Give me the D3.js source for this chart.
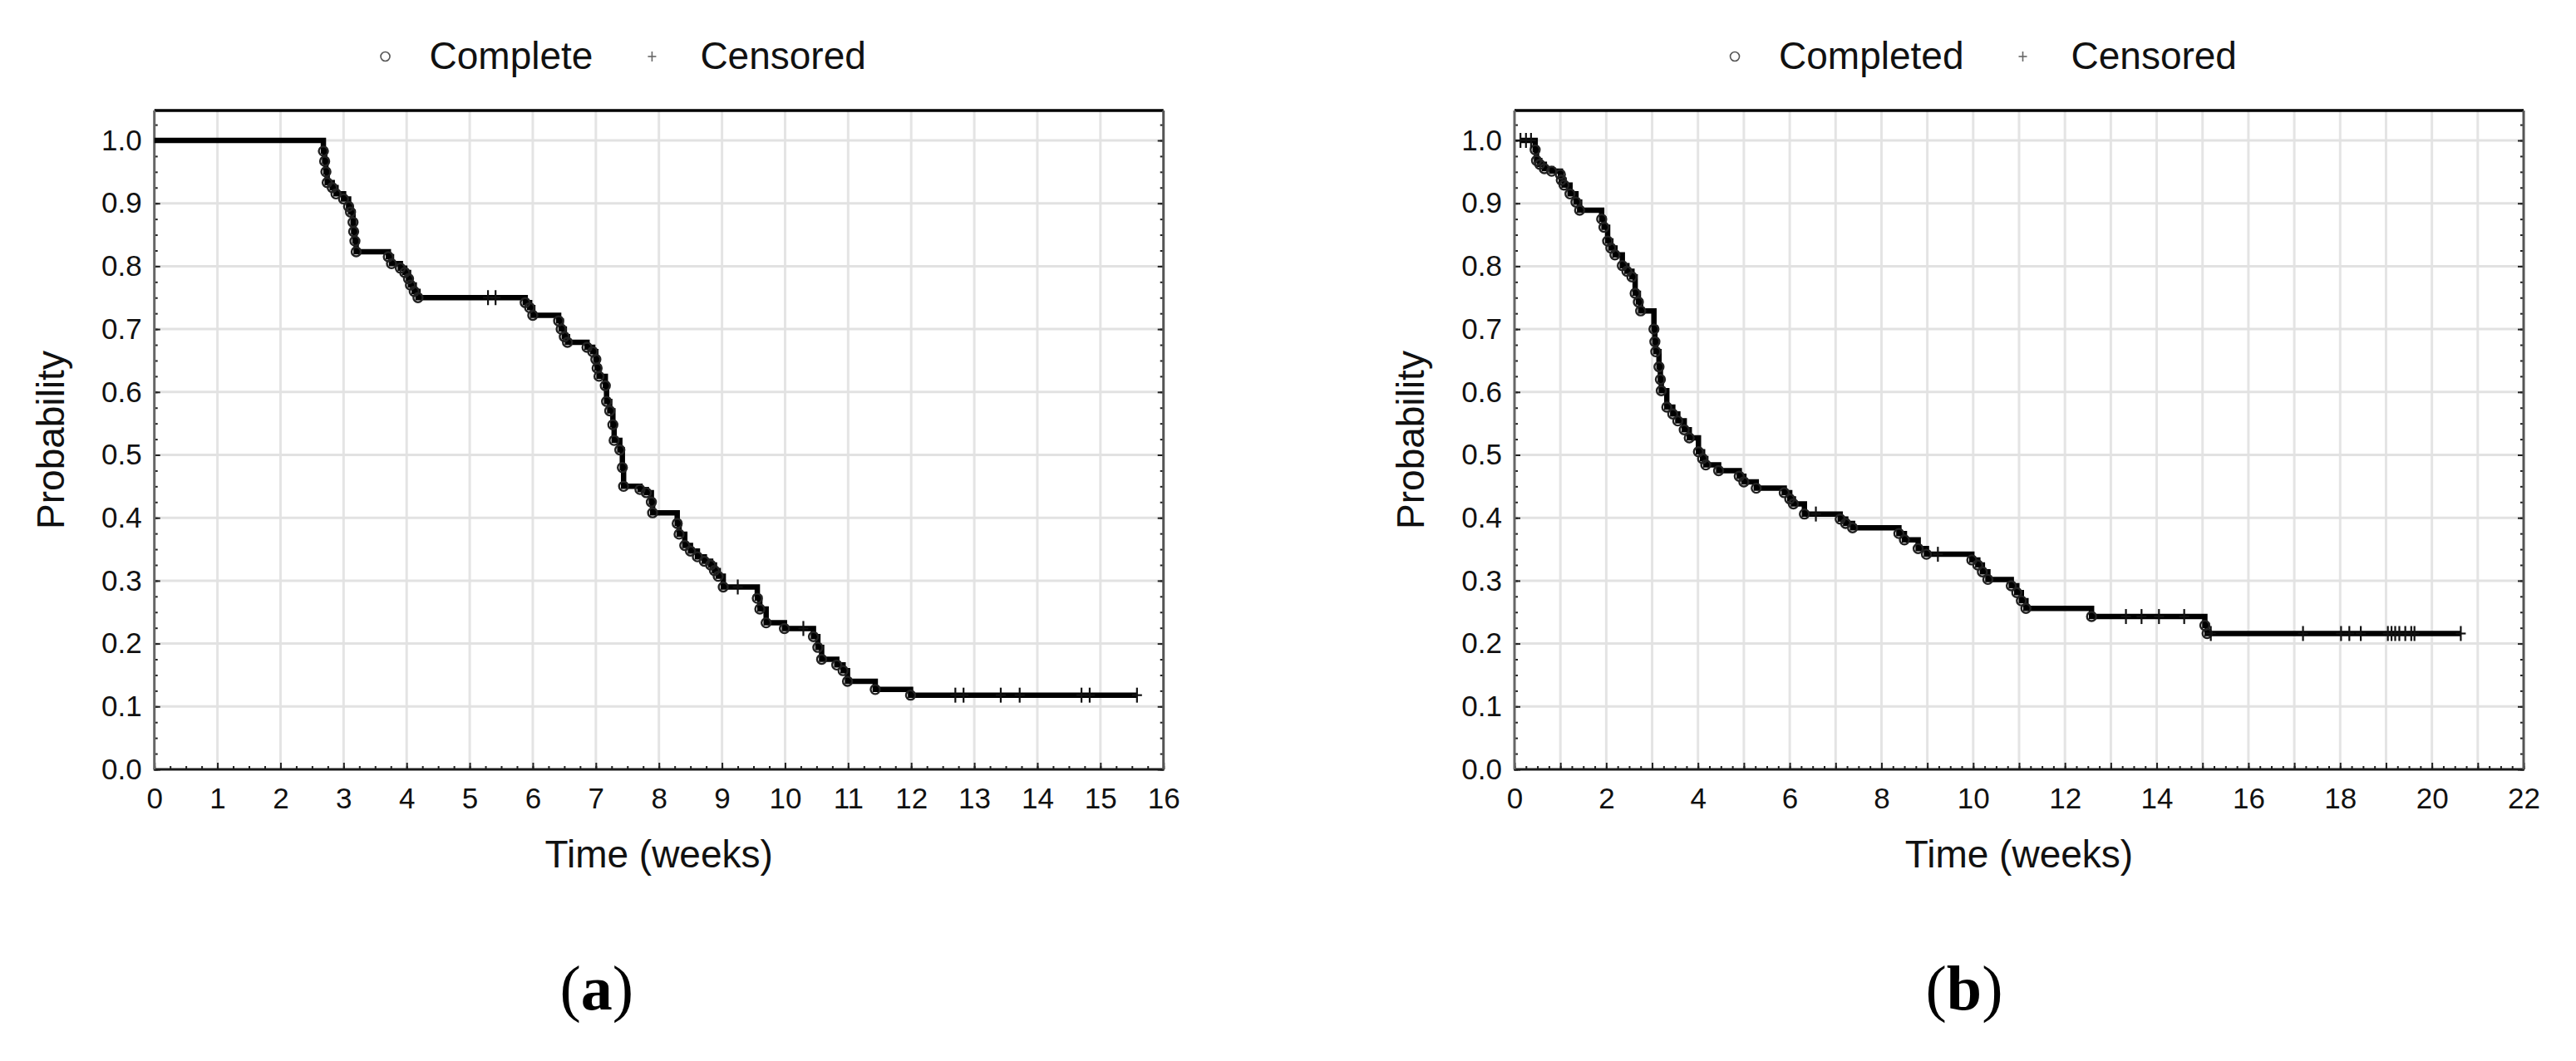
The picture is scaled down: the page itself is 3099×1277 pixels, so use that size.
<!DOCTYPE html>
<html><head><meta charset="utf-8">
<script src="https://cdn.jsdelivr.net/npm/d3@7"></script>
<style>body{margin:0;background:#fff}</style>
</head><body>
<svg id="chart" width="3099" height="1277" xmlns="http://www.w3.org/2000/svg"></svg>
<script>
// ---------- DATA ----------
// Panel (a): event (complete) times in weeks and Kaplan-Meier survival after each event
const eventTimesA = [2.68,2.70,2.72,2.74,2.82,2.88,3.00,3.08,3.11,3.15,3.16,3.18,3.20,3.71,3.76,3.90,3.97,4.03,4.06,4.12,4.18,
  5.88,5.95,6.00,6.41,6.45,6.50,6.55,6.86,6.95,7.00,7.02,7.05,7.15,7.17,7.22,7.27,7.29,7.38,7.42,7.44,7.70,7.80,7.88,7.90,
  8.29,8.32,8.41,8.50,8.61,8.72,8.82,8.88,8.94,9.02,9.56,9.60,9.70,9.99,10.45,10.52,10.58,10.82,10.92,10.99,11.43,11.99];
const survivalA = [0.983,0.967,0.950,0.933,0.925,0.915,0.907,0.895,0.886,0.870,0.855,0.840,0.823,0.815,0.804,0.797,0.790,0.780,0.770,0.760,0.750,
  0.742,0.734,0.722,0.713,0.700,0.688,0.679,0.671,0.664,0.652,0.638,0.625,0.610,0.585,0.570,0.548,0.523,0.508,0.480,0.450,0.445,0.440,0.425,0.408,
  0.391,0.374,0.356,0.347,0.338,0.331,0.325,0.316,0.307,0.290,0.272,0.255,0.233,0.224,0.211,0.194,0.175,0.166,0.157,0.140,0.127,0.118];
const censoredTimesA = [5.29,5.41,9.25,10.29,12.70,12.83,13.42,13.72,14.70,14.83,15.58];
const curveStartA = 0;

// Panel (b)
const eventTimesB = [0.45,0.48,0.55,0.65,0.81,1.00,1.02,1.08,1.21,1.34,1.42,1.90,1.95,2.03,2.10,2.19,2.35,2.45,2.56,2.63,2.70,2.75,
  3.04,3.06,3.08,3.15,3.18,3.20,3.32,3.45,3.56,3.70,3.81,4.01,4.10,4.17,4.45,4.90,5.00,5.27,5.88,6.00,6.08,6.32,7.10,7.22,7.37,
  8.38,8.50,8.80,8.98,9.97,10.10,10.20,10.32,10.83,10.95,11.05,11.15,12.58,15.05,15.10];
const survivalB = [0.985,0.968,0.962,0.955,0.951,0.946,0.937,0.929,0.915,0.902,0.889,0.875,0.862,0.840,0.829,0.818,0.801,0.792,0.783,0.757,0.743,0.729,
  0.700,0.680,0.664,0.640,0.620,0.602,0.576,0.565,0.554,0.540,0.527,0.505,0.494,0.484,0.475,0.466,0.457,0.447,0.440,0.430,0.422,0.406,0.398,0.391,0.384,
  0.375,0.365,0.351,0.342,0.333,0.325,0.314,0.302,0.292,0.281,0.268,0.256,0.243,0.229,0.216];
const censoredTimesB = [0.13,0.25,0.36,6.57,9.23,13.33,13.67,14.05,14.60,15.18,17.19,18.02,18.20,18.45,19.04,19.12,19.20,19.29,19.42,19.55,19.62,20.63];
const curveStartB = 0.13;

// Axis tick labels
const xTicksA = [0,1,2,3,4,5,6,7,8,9,10,11,12,13,14,15,16];
const xTicksB = [0,2,4,6,8,10,12,14,16,18,20,22];
const yTicks = [0.0,0.1,0.2,0.3,0.4,0.5,0.6,0.7,0.8,0.9,1.0];
const legendA = ["Complete","Censored"];
const legendB = ["Completed","Censored"];
const panelLetters = ["a","b"];
const xTitle = "Time (weeks)";
const yTitle = "Probability";

// ---------- DRAWING ----------
const svg = d3.select("#chart");
svg.append("rect").attr("width",3099).attr("height",1277).attr("fill","#fff");

const FONT = "'Liberation Sans', Arial, sans-serif";
const PLOT_W = 1214, TOP = 133, BOTTOM = 926;

function survAt(times, surv, t){
  let s = 1;
  for (let i=0;i<times.length;i++){ if (times[i] <= t) s = surv[i]; }
  return s;
}

function drawPanel(o){
  const g = svg.append("g").attr("transform",`translate(${o.left},0)`);
  const x = d3.scaleLinear().domain([0,o.xmax]).range([0,PLOT_W]);
  const y = d3.scaleLinear().domain([0,1]).range([BOTTOM,169]);
  const yTop = y.invert(TOP);

  // grid
  const gridX = d3.range(0,o.xmax+0.001,1);
  g.append("g").selectAll("line").data(gridX.slice(1,-1)).join("line")
    .attr("x1",d=>x(d)).attr("x2",d=>x(d)).attr("y1",TOP).attr("y2",BOTTOM)
    .attr("stroke","#e4e4e4").attr("stroke-width",3);
  g.append("g").selectAll("line").data(yTicks.slice(1)).join("line")
    .attr("x1",0).attr("x2",PLOT_W).attr("y1",d=>y(d)).attr("y2",d=>y(d))
    .attr("stroke","#e2e2e2").attr("stroke-width",3);

  // minor ticks (x every 0.25, y every 0.025)
  const minorX = d3.range(0,o.xmax+0.001,0.25);
  const minorY = d3.range(0,yTop,0.025);
  g.append("g").attr("transform",`translate(0,${BOTTOM})`)
    .call(d3.axisBottom(x).tickValues(minorX).tickSize(-4).tickFormat(""))
    .call(a=>a.select(".domain").remove())
    .call(a=>a.selectAll("line").attr("stroke","#222").attr("stroke-width",2));
  g.append("g")
    .call(d3.axisLeft(y).tickValues(minorY).tickSize(-4).tickFormat(""))
    .call(a=>a.select(".domain").remove())
    .call(a=>a.selectAll("line").attr("stroke","#222").attr("stroke-width",2));
  g.append("g").attr("transform",`translate(${PLOT_W},0)`)
    .call(d3.axisRight(y).tickValues(minorY).tickSize(-4).tickFormat(""))
    .call(a=>a.select(".domain").remove())
    .call(a=>a.selectAll("line").attr("stroke","#222").attr("stroke-width",2));

  // major axes
  const ax = g.append("g").attr("transform",`translate(0,${BOTTOM})`)
    .call(d3.axisBottom(x).tickValues(gridX).tickSize(-8).tickPadding(22)
      .tickFormat(d=> o.xLabels.includes(d) ? d3.format("d")(d) : ""));
  ax.select(".domain").remove();
  ax.selectAll("line").attr("stroke","#222").attr("stroke-width",2);
  ax.selectAll("text").attr("font-family",FONT).attr("font-size",35).attr("fill","#111");

  const ay = g.append("g")
    .call(d3.axisLeft(y).tickValues(yTicks).tickSize(-7).tickPadding(15).tickFormat(d3.format(".1f")));
  ay.select(".domain").remove();
  ay.selectAll("line").attr("stroke","#222").attr("stroke-width",2);
  ay.selectAll("text").attr("font-family",FONT).attr("font-size",35).attr("fill","#111");

  g.append("g").attr("transform",`translate(${PLOT_W},0)`)
    .call(d3.axisRight(y).tickValues(yTicks).tickSize(-7).tickFormat(""))
    .call(a=>a.select(".domain").remove())
    .call(a=>a.selectAll("line").attr("stroke","#222").attr("stroke-width",2));

  // frame
  g.append("line").attr("x1",0).attr("x2",PLOT_W).attr("y1",TOP).attr("y2",TOP).attr("stroke","#000").attr("stroke-width",3.5);
  g.append("line").attr("x1",-1).attr("x2",PLOT_W+1).attr("y1",BOTTOM).attr("y2",BOTTOM).attr("stroke","#1a1a1a").attr("stroke-width",3);
  g.append("line").attr("x1",0).attr("x2",0).attr("y1",TOP).attr("y2",BOTTOM).attr("stroke","#666").attr("stroke-width",3);
  g.append("line").attr("x1",PLOT_W).attr("x2",PLOT_W).attr("y1",TOP).attr("y2",BOTTOM).attr("stroke","#555").attr("stroke-width",3);

  // KM curve
  const end = d3.max(o.cens);
  const pts = [[o.start,1]].concat(o.times.map((t,i)=>[t,o.surv[i]])).concat([[end,o.surv[o.surv.length-1]]]);
  g.append("path").datum(pts)
    .attr("d", d3.line().x(d=>x(d[0])).y(d=>y(d[1])).curve(d3.curveStepAfter))
    .attr("fill","none").attr("stroke","#000").attr("stroke-width",6.5).attr("stroke-linejoin","miter");

  // complete markers (circles)
  g.append("g").selectAll("circle").data(o.times.map((t,i)=>[t,o.surv[i]])).join("circle")
    .attr("cx",d=>x(d[0])).attr("cy",d=>y(d[1])).attr("r",5.5)
    .attr("fill","none").attr("stroke","#222").attr("stroke-width",2.4);

  // censored markers (+)
  const cg = g.append("g").selectAll("g").data(o.cens.map(t=>[t,survAt(o.times,o.surv,t)])).join("g")
    .attr("transform",d=>`translate(${x(d[0])},${y(d[1])})`);
  cg.append("line").attr("x1",0).attr("x2",0).attr("y1",-9).attr("y2",9).attr("stroke","#111").attr("stroke-width",2.2);
  cg.append("line").attr("x1",-6).attr("x2",6).attr("y1",0).attr("y2",0).attr("stroke","#111").attr("stroke-width",2.2);

  // axis titles
  g.append("text").attr("x",PLOT_W/2).attr("y",1044).attr("text-anchor","middle")
    .attr("font-family",FONT).attr("font-size",46).attr("fill","#111").text(xTitle);
  g.append("text").attr("transform",`translate(-109,${(TOP+BOTTOM)/2}) rotate(-90)`).attr("text-anchor","middle")
    .attr("font-family",FONT).attr("font-size",46).attr("fill","#111").text(yTitle);

  // legend
  const lg = g.append("g").attr("transform",`translate(0,83)`);
  const c1 = lg.append("circle").attr("cy",-15).attr("r",5.5).attr("fill","none").attr("stroke","#555").attr("stroke-width",1.6);
  const t1 = lg.append("text").attr("font-family",FONT).attr("font-size",46).attr("fill","#111").text(o.legend[0]);
  const p2 = lg.append("g");
  p2.append("line").attr("x1",0).attr("x2",0).attr("y1",-21).attr("y2",-9).attr("stroke","#666").attr("stroke-width",1.6);
  p2.append("line").attr("x1",-5).attr("x2",5).attr("y1",-15).attr("y2",-15).attr("stroke","#666").attr("stroke-width",1.6);
  const t2 = lg.append("text").attr("font-family",FONT).attr("font-size",46).attr("fill","#111").text(o.legend[1]);
  const w1 = t1.node().getComputedTextLength(), w2 = t2.node().getComputedTextLength();
  const total = 6 + 53 + w1 + 71 + 58 + w2;
  let cx = o.legendCenter - total/2;
  c1.attr("cx",cx+6); t1.attr("x",cx+59);
  p2.attr("transform",`translate(${cx+59+w1+71},0)`);
  t2.attr("x",cx+59+w1+71+58);

  // panel label
  const pl = g.append("text").attr("x",o.labelX).attr("y",1215).attr("text-anchor","middle")
    .attr("font-family","'Liberation Serif','Times New Roman',serif").attr("font-size",76).attr("fill","#000");
  pl.append("tspan").text("(");
  pl.append("tspan").attr("font-weight","bold").text(o.letter);
  pl.append("tspan").text(")");
}

drawPanel({left:185.7, xmax:16, xLabels:xTicksA, times:eventTimesA, surv:survivalA, cens:censoredTimesA,
  start:curveStartA, legend:legendA, legendCenter:564, labelX:532, letter:panelLetters[0]});
drawPanel({left:1822, xmax:22, xLabels:xTicksB, times:eventTimesB, surv:survivalB, cens:censoredTimesB,
  start:curveStartB, legend:legendB, legendCenter:564, labelX:541, letter:panelLetters[1]});
</script>
</body></html>
